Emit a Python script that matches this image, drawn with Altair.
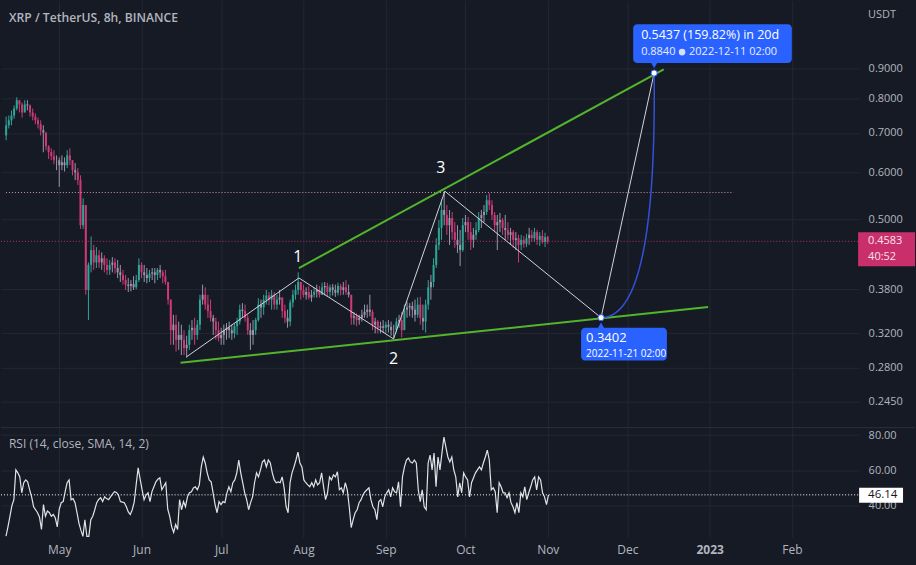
import altair as alt
import pandas as pd
import numpy as np

BG = "#161a25"
GRID = "#232733"
TXT = "#b2b5be"
FONT = "Open Sans"
TEAL = "#2ea596"
PINK = "#cf3a76"
GREY = "#9a97ad"
GREEN = "#52b52b"
BLUE = "#2962ff"

# ---------------- data ----------------
candle_start = "2022-04-11 00:00"   # one candle per day (read at daily resolution)
first_open = 0.693
highs = [0.746, 0.749, 0.764, 0.779, 0.804, 0.795, 0.788, 0.795, 0.795, 0.782,
         0.770, 0.755, 0.743, 0.735, 0.721, 0.693, 0.667, 0.659, 0.654, 0.641,
         0.636, 0.641, 0.636, 0.654, 0.659, 0.629, 0.622, 0.610, 0.593, 0.542,
         0.528, 0.422, 0.467, 0.452, 0.448, 0.443, 0.439, 0.434, 0.429, 0.426,
         0.431, 0.429, 0.426, 0.418, 0.410, 0.402, 0.397, 0.394, 0.400, 0.402,
         0.429, 0.422, 0.418, 0.413, 0.410, 0.413, 0.413, 0.413, 0.418, 0.410,
         0.410, 0.391, 0.365, 0.344, 0.344, 0.335, 0.331, 0.324, 0.317, 0.331,
         0.337, 0.340, 0.337, 0.372, 0.387, 0.383, 0.372, 0.365, 0.344, 0.340,
         0.335, 0.327, 0.331, 0.333, 0.335, 0.331, 0.333, 0.340, 0.358, 0.360,
         0.358, 0.344, 0.333, 0.337, 0.340, 0.367, 0.365, 0.372, 0.379, 0.376,
         0.379, 0.376, 0.372, 0.379, 0.368, 0.358, 0.351, 0.365, 0.379, 0.387,
         0.406, 0.391, 0.387, 0.383, 0.385, 0.379, 0.383, 0.387, 0.385, 0.390,
         0.391, 0.390, 0.387, 0.388, 0.387, 0.390, 0.388, 0.391, 0.394, 0.387,
         0.372, 0.348, 0.346, 0.344, 0.351, 0.358, 0.358, 0.372, 0.351, 0.340,
         0.337, 0.335, 0.337, 0.335, 0.337, 0.335, 0.331, 0.340, 0.344, 0.348,
         0.358, 0.362, 0.360, 0.362, 0.365, 0.368, 0.369, 0.358, 0.365, 0.394,
         0.402, 0.429, 0.464, 0.498, 0.540, 0.557, 0.528, 0.518, 0.514, 0.494,
         0.488, 0.479, 0.502, 0.508, 0.504, 0.494, 0.483, 0.494, 0.514, 0.518,
         0.528, 0.549, 0.553, 0.538, 0.514, 0.508, 0.512, 0.502, 0.508, 0.494,
         0.483, 0.479, 0.475, 0.470, 0.470, 0.468, 0.472, 0.483, 0.479, 0.483,
         0.479, 0.475, 0.479, 0.474, 0.468]
lows = [0.680, 0.712, 0.721, 0.740, 0.764, 0.758, 0.743, 0.758, 0.764, 0.746,
        0.735, 0.724, 0.712, 0.693, 0.649, 0.654, 0.632, 0.629, 0.619, 0.605,
        0.567, 0.605, 0.602, 0.610, 0.617, 0.593, 0.582, 0.571, 0.481, 0.481,
        0.372, 0.337, 0.406, 0.410, 0.413, 0.413, 0.410, 0.406, 0.402, 0.402,
        0.406, 0.404, 0.397, 0.391, 0.387, 0.379, 0.376, 0.377, 0.379, 0.380,
        0.391, 0.397, 0.391, 0.389, 0.391, 0.394, 0.389, 0.394, 0.397, 0.389,
        0.387, 0.358, 0.306, 0.306, 0.298, 0.300, 0.294, 0.294, 0.291, 0.300,
        0.312, 0.306, 0.312, 0.324, 0.358, 0.351, 0.340, 0.335, 0.318, 0.312,
        0.310, 0.306, 0.306, 0.312, 0.314, 0.312, 0.314, 0.318, 0.331, 0.340,
        0.335, 0.318, 0.300, 0.306, 0.318, 0.335, 0.340, 0.344, 0.358, 0.357,
        0.351, 0.351, 0.351, 0.358, 0.340, 0.333, 0.327, 0.329, 0.354, 0.365,
        0.372, 0.365, 0.368, 0.365, 0.365, 0.362, 0.368, 0.368, 0.368, 0.372,
        0.371, 0.369, 0.369, 0.371, 0.369, 0.371, 0.371, 0.372, 0.372, 0.368,
        0.331, 0.331, 0.329, 0.331, 0.335, 0.340, 0.340, 0.342, 0.324, 0.320,
        0.320, 0.320, 0.321, 0.320, 0.321, 0.317, 0.314, 0.321, 0.327, 0.315,
        0.324, 0.340, 0.342, 0.340, 0.335, 0.340, 0.331, 0.324, 0.321, 0.351,
        0.365, 0.383, 0.413, 0.443, 0.461, 0.488, 0.470, 0.452, 0.461, 0.447,
        0.438, 0.416, 0.440, 0.475, 0.461, 0.443, 0.447, 0.461, 0.475, 0.483,
        0.494, 0.508, 0.518, 0.498, 0.475, 0.443, 0.475, 0.470, 0.461, 0.461,
        0.452, 0.447, 0.443, 0.422, 0.443, 0.447, 0.448, 0.452, 0.457, 0.457,
        0.452, 0.450, 0.454, 0.448, 0.454]
closes = [0.721, 0.735, 0.749, 0.770, 0.795, 0.782, 0.758, 0.782, 0.779, 0.758,
          0.746, 0.735, 0.724, 0.707, 0.701, 0.664, 0.649, 0.639, 0.629, 0.629,
          0.617, 0.624, 0.617, 0.641, 0.629, 0.605, 0.600, 0.582, 0.488, 0.528,
          0.379, 0.418, 0.443, 0.422, 0.434, 0.422, 0.429, 0.418, 0.410, 0.418,
          0.422, 0.413, 0.406, 0.402, 0.394, 0.387, 0.385, 0.388, 0.383, 0.394,
          0.418, 0.406, 0.402, 0.397, 0.404, 0.406, 0.402, 0.410, 0.406, 0.400,
          0.391, 0.365, 0.324, 0.331, 0.312, 0.318, 0.312, 0.302, 0.306, 0.324,
          0.327, 0.318, 0.331, 0.365, 0.372, 0.358, 0.349, 0.340, 0.335, 0.324,
          0.314, 0.318, 0.324, 0.327, 0.324, 0.320, 0.329, 0.335, 0.351, 0.349,
          0.340, 0.324, 0.318, 0.324, 0.337, 0.358, 0.354, 0.365, 0.371, 0.365,
          0.372, 0.358, 0.365, 0.368, 0.349, 0.340, 0.335, 0.361, 0.372, 0.379,
          0.391, 0.379, 0.372, 0.376, 0.368, 0.372, 0.376, 0.379, 0.372, 0.383,
          0.385, 0.376, 0.383, 0.379, 0.375, 0.385, 0.379, 0.383, 0.376, 0.372,
          0.340, 0.342, 0.337, 0.340, 0.344, 0.348, 0.351, 0.348, 0.331, 0.335,
          0.327, 0.329, 0.327, 0.331, 0.328, 0.324, 0.324, 0.335, 0.337, 0.324,
          0.351, 0.354, 0.356, 0.351, 0.344, 0.358, 0.340, 0.335, 0.358, 0.383,
          0.391, 0.418, 0.452, 0.483, 0.518, 0.508, 0.488, 0.502, 0.475, 0.461,
          0.452, 0.443, 0.488, 0.494, 0.475, 0.461, 0.470, 0.479, 0.502, 0.508,
          0.514, 0.538, 0.528, 0.508, 0.488, 0.494, 0.498, 0.483, 0.479, 0.470,
          0.475, 0.461, 0.464, 0.452, 0.461, 0.454, 0.464, 0.470, 0.464, 0.475,
          0.461, 0.468, 0.457, 0.466, 0.4583]

rsi_start = "2022-04-10 22:35"
rsi_step_minutes = 1070
rsi_values = [22.7, 28.0, 34.0, 40.0, 43.4, 60.3, 58.6, 56.3, 47.3, 53.0,
              54.6, 53.5, 49.0, 45.0, 39.4, 37.7, 36.0, 33.5, 26.5, 40.6,
              34.0, 37.0, 36.0, 34.0, 35.0, 33.0, 28.0, 38.0, 41.7, 42.3,
              48.0, 53.0, 54.6, 43.4, 44.0, 41.7, 36.0, 30.0, 26.0, 22.6,
              32.0, 22.6, 22.6, 32.0, 34.0, 37.7, 41.7, 43.5, 44.5, 42.3,
              45.0, 44.0, 43.4, 45.0, 46.5, 47.9, 47.5, 46.0, 42.3, 42.0,
              41.7, 39.4, 36.5, 35.0, 37.7, 42.0, 52.0, 61.4, 55.0, 49.0,
              43.4, 46.0, 47.3, 42.3, 48.0, 50.7, 53.5, 55.0, 55.8, 49.0,
              51.0, 53.0, 38.0, 34.0, 28.0, 24.8, 29.3, 26.5, 43.4, 37.7,
              42.3, 39.4, 45.0, 47.3, 47.9, 50.1, 50.7, 49.0, 51.8, 62.0,
              67.6, 64.2, 58.6, 54.6, 53.5, 47.3, 40.6, 36.0, 42.3, 40.6,
              42.3, 41.7, 47.3, 50.7, 47.9, 53.0, 54.6, 58.6, 65.9, 58.6,
              53.0, 47.3, 43.4, 37.7, 41.7, 45.0, 53.0, 58.6, 56.3, 60.3,
              64.8, 65.9, 62.0, 65.9, 64.2, 58.6, 54.6, 53.0, 53.5, 53.0,
              56.3, 50.1, 39.4, 36.0, 53.0, 58.6, 62.0, 65.9, 70.4, 64.2,
              62.0, 54.6, 53.0, 51.8, 50.7, 53.0, 50.7, 54.6, 51.8, 53.0,
              58.6, 50.7, 43.4, 47.3, 56.3, 54.6, 57.5, 56.3, 59.2, 49.0,
              50.1, 47.3, 53.0, 49.0, 39.4, 27.6, 32.1, 36.0, 37.7, 41.7,
              43.4, 46.2, 47.9, 49.0, 50.1, 43.4, 39.4, 37.7, 32.1, 42.3,
              43.4, 39.4, 45.0, 47.3, 49.0, 45.0, 50.1, 47.9, 47.3, 53.5,
              39.4, 56.3, 62.0, 65.9, 67.0, 64.8, 64.2, 65.9, 64.2, 49.0,
              42.3, 49.0, 39.4, 37.7, 64.2, 68.7, 60.3, 69.8, 50.7, 67.6,
              60.3, 69.8, 78.9, 73.2, 67.6, 64.8, 67.6, 60.3, 56.3, 45.0,
              53.0, 47.3, 58.6, 56.3, 54.6, 45.0, 53.0, 55.8, 58.6, 60.3,
              62.0, 60.3, 64.2, 67.6, 71.5, 65.9, 49.0, 50.1, 47.9, 36.0,
              53.0, 50.7, 47.3, 47.3, 44.5, 47.3, 41.7, 39.4, 36.0, 41.7,
              36.0, 47.3, 45.0, 50.7, 43.4, 47.3, 50.7, 54.6, 56.3, 49.0,
              56.3, 54.6, 47.3, 45.0, 40.6, 46.14]

price_ticks = [0.245, 0.28, 0.32, 0.38, 0.5, 0.6, 0.7, 0.8, 0.9]
rsi_ticks = [40, 60, 80]
month_ticks = [(2022, 5), (2022, 6), (2022, 7), (2022, 8), (2022, 9), (2022, 10),
               (2022, 11), (2022, 12), (2023, 1), (2023, 2)]

title_text = "XRP / TetherUS, 8h, BINANCE"
rsi_title = "RSI (14, close, SMA, 14, 2)"
currency = "USDT"
last_price = 0.4583
last_price_timer = "40:52"
last_rsi = 46.14
resistance_level = 0.5545
resistance_start = "2022-04-10 22:35"
resistance_end = "2023-01-09 23:00"

zigzag_time = ["2022-06-17 22:00", "2022-07-30 06:30", "2022-09-03 22:20",
               "2022-09-23 06:00", "2022-11-21 02:00", "2022-12-11 02:00"]
zigzag_price = [0.2919, 0.3972, 0.3131, 0.5574, 0.3402, 0.8840]
wave_labels = ["1", "2", "3"]
wave_points = [1, 2, 3]
wave_offsets = [(-1, -21), (0, 20), (-4, -23)]

channel_t1 = ["2022-07-30 06:30", "2022-06-15 16:30"]
channel_p1 = [0.4129, 0.2852]
channel_t2 = ["2022-12-14 17:00", "2022-12-31 10:20"]
channel_p2 = [0.8965, 0.3547]

proj_times = ["2022-11-21 02:00", "2022-12-12 03:00", "2022-12-11 02:00"]
proj_prices = [0.3402, 0.3402, 0.8840]
proj_head = "0.5437 (159.82%) in 20d"
proj_end_price = "0.8840"
proj_end_date = "2022-12-11  02:00"
proj_start_price = "0.3402"
proj_start_date = "2022-11-21 02:00"

# ---------------- tables ----------------
dates = pd.date_range(candle_start, periods=len(closes), freq="D")
opens = [first_open] + closes[:-1]
kinds, hi2, lo2 = [], [], []
for o, h, l, c in zip(opens, highs, lows, closes):
    h2, l2 = max(h, o, c), min(l, o, c)
    hi2.append(h2)
    lo2.append(l2)
    if abs(c - o) < 0.25 * (h2 - l2):
        kinds.append("flat")
    elif c >= o:
        kinds.append("up")
    else:
        kinds.append("down")
candles = pd.DataFrame({"t": dates, "o": opens, "h": hi2, "l": lo2, "c": closes, "k": kinds})

rsi_df = pd.DataFrame({
    "t": pd.date_range(rsi_start, periods=len(rsi_values), freq=f"{rsi_step_minutes}min"),
    "rsi": rsi_values,
})

zig = pd.DataFrame({"t": pd.to_datetime(zigzag_time), "p": zigzag_price, "i": range(len(zigzag_time))})
chan = pd.DataFrame({"t": pd.to_datetime(channel_t1), "p": channel_p1,
                     "t2": pd.to_datetime(channel_t2), "p2": channel_p2})

pt = pd.to_datetime(proj_times).astype("int64").to_numpy().astype(float)
pl = np.log(np.array(proj_prices))
s = np.linspace(0, 1, 41)
bt = (1 - s) ** 2 * pt[0] + 2 * (1 - s) * s * pt[1] + s ** 2 * pt[2]
bl = (1 - s) ** 2 * pl[0] + 2 * (1 - s) * s * pl[1] + s ** 2 * pl[2]
curve = pd.DataFrame({"t": pd.to_datetime(bt.astype("int64")), "p": np.exp(bl), "i": range(len(s))})

end_pt = pd.DataFrame({"t": [pd.Timestamp(proj_times[2])], "p": [proj_prices[2]]})
start_pt = pd.DataFrame({"t": [pd.Timestamp(proj_times[0])], "p": [proj_prices[0]]})

res_df = pd.DataFrame({"t": [pd.Timestamp(resistance_start)], "t2": [pd.Timestamp(resistance_end)],
                       "p": [resistance_level]})
last_df = pd.DataFrame({"p": [last_price], "s": [f"{last_price:.4f}"], "s2": [last_price_timer]})
rsi_last_df = pd.DataFrame({"v": [last_rsi], "s": [f"{last_rsi:.2f}"]})

# ---------------- scales & axes ----------------
x_scale = alt.Scale(domain=[alt.DateTime(year=2022, month=4, date=10, hours=22, minutes=35),
                            alt.DateTime(year=2023, month=2, date=24, hours=10)])
month_vals = [alt.DateTime(year=y, month=m, date=1) for y, m in month_ticks]
top_x_axis = alt.Axis(values=month_vals, labels=False, ticks=False, domain=False, grid=True,
                      gridColor=GRID, title=None)
bottom_x_axis = alt.Axis(values=month_vals,
                         labelExpr="month(datum.value) == 0 ? timeFormat(datum.value, '%Y') : timeFormat(datum.value, '%b')",
                         labelFontWeight={"condition": {"test": "month(datum.value) == 0", "value": "bold"},
                                          "value": "normal"},
                         ticks=False, domain=False, grid=True, gridColor=GRID, labelColor=TXT,
                         labelFontSize=12, labelFont=FONT, labelPadding=7, title=None,
                         labelFlush=False, labelOverlap=False)
p_scale = alt.Scale(type="log", domain=[0.2214, 1.173], nice=False)
price_axis = alt.Axis(orient="right", values=price_ticks, format=".4f", labelColor=TXT, labelFontSize=11,
                      labelFont=FONT, labelAlign="left", labelPadding=9, ticks=False, domain=False,
                      grid=True, gridColor=GRID, title=None, labelOverlap=False, labelFlush=False)
r_scale = alt.Scale(domain=[22.0, 84.2], nice=False)
rsi_axis = alt.Axis(orient="right", values=rsi_ticks, format=".2f", labelColor=TXT, labelFontSize=11,
                    labelFont=FONT, labelAlign="left", labelPadding=9, ticks=False, domain=False,
                    grid=True, gridColor=GRID, title=None, labelOverlap=False, labelFlush=False)

X = lambda f: alt.X(f"{f}:T", scale=x_scale, axis=top_x_axis)
Y = lambda f: alt.Y(f"{f}:Q", scale=p_scale, axis=price_axis)
color_scale = alt.Scale(domain=["up", "down", "flat"], range=[TEAL, PINK, GREY])

# ---------------- price panel ----------------
wicks = alt.Chart(candles).mark_rule(strokeWidth=1).encode(
    x=X("t"), y=Y("l"), y2="h", color=alt.Color("k:N", scale=color_scale, legend=None))
bodies = alt.Chart(candles).mark_bar(width=2).encode(
    x=X("t"), y=Y("o"), y2="c", color=alt.Color("k:N", scale=color_scale, legend=None))

res_line = alt.Chart(res_df).mark_rule(strokeDash=[1, 2], color="#c99ab3", strokeWidth=1).encode(
    x=X("t"), x2="t2", y=Y("p"))
last_line = alt.Chart(last_df).mark_rule(strokeDash=[1, 2], color="#b8306a", strokeWidth=1).encode(
    x=alt.value(0), x2=alt.value(860), y=Y("p"))

channel = alt.Chart(chan).mark_rule(strokeWidth=2, color=GREEN).encode(
    x=X("t"), x2="t2", y=Y("p"), y2="p2")
zigline = alt.Chart(zig).mark_line(strokeWidth=1, color="#d1d4dc").encode(
    x=X("t"), y=Y("p"), order="i:Q")
curve_line = alt.Chart(curve).mark_line(strokeWidth=1.5, color="#3450d8").encode(
    x=X("t"), y=Y("p"), order="i:Q")

# projection labels
top_box = alt.Chart(end_pt).mark_rect(color=BLUE, cornerRadius=4, xOffset=-21, x2Offset=138,
                                      yOffset=-49, y2Offset=-10).encode(x=X("t"), x2="t", y=Y("p"), y2="p")
top_ptr = alt.Chart(end_pt).mark_point(shape="triangle-down", filled=True, size=50, color=BLUE, opacity=1,
                                       yOffset=-8).encode(x=X("t"), y=Y("p"))
top_t1 = alt.Chart(end_pt).mark_text(text=proj_head, align="left", baseline="middle", dx=-13, dy=-38,
                                     fontSize=12.5, font=FONT, color="white").encode(x=X("t"), y=Y("p"))
top_t2 = alt.Chart(end_pt).mark_text(text=proj_end_price, align="left", baseline="middle", dx=-13, dy=-21,
                                     fontSize=11, font=FONT, color="#e8edff").encode(x=X("t"), y=Y("p"))
top_clock = alt.Chart(end_pt).mark_point(shape="circle", filled=True, size=45, color="#d6def8", opacity=1,
                                         xOffset=28, yOffset=-21).encode(x=X("t"), y=Y("p"))
top_t3 = alt.Chart(end_pt).mark_text(text=proj_end_date, align="left", baseline="middle", dx=35, dy=-21,
                                     fontSize=11, font=FONT, color="#e8edff").encode(x=X("t"), y=Y("p"))

low_box = alt.Chart(start_pt).mark_rect(color=BLUE, cornerRadius=4, xOffset=-20, x2Offset=66,
                                        yOffset=10, y2Offset=43).encode(x=X("t"), x2="t", y=Y("p"), y2="p")
low_ptr = alt.Chart(start_pt).mark_point(shape="triangle-up", filled=True, size=50, color=BLUE, opacity=1,
                                         yOffset=8).encode(x=X("t"), y=Y("p"))
low_t1 = alt.Chart(start_pt).mark_text(text=proj_start_price, align="left", baseline="middle", dx=-15, dy=20,
                                       fontSize=13, font=FONT, color="white").encode(x=X("t"), y=Y("p"))
low_t2 = alt.Chart(start_pt).mark_text(text=proj_start_date, align="left", baseline="middle", dx=-15, dy=36,
                                       fontSize=10, font=FONT, color="white").encode(x=X("t"), y=Y("p"))

dots = alt.Chart(pd.concat([start_pt, end_pt])).mark_point(shape="circle", filled=True, size=38, color="white",
                                                          opacity=1, stroke=BLUE, strokeWidth=1).encode(
    x=X("t"), y=Y("p"))

wave_layers = []
for lab, idx, (dx, dy) in zip(wave_labels, wave_points, wave_offsets):
    wave_layers.append(alt.Chart(zig[zig["i"] == idx]).mark_text(
        text=lab, dx=dx, dy=dy, fontSize=16, font=FONT, color="white", baseline="middle").encode(
        x=X("t"), y=Y("p")))

title_mark = alt.Chart(pd.DataFrame({"s": [title_text]})).mark_text(
    align="left", baseline="middle", fontSize=12.2, fontWeight=600, font=FONT, color=TXT).encode(
    x=alt.value(8), y=alt.value(17), text="s:N")
usdt_mark = alt.Chart(pd.DataFrame({"s": [currency]})).mark_text(
    align="left", baseline="middle", fontSize=11, font=FONT, color=TXT).encode(
    x=alt.value(869), y=alt.value(14), text="s:N")

last_box = alt.Chart(last_df).mark_rect(color="#c92f6b", yOffset=-9, y2Offset=25).encode(
    x=alt.value(859), x2=alt.value(916), y=Y("p"), y2="p")
last_t1 = alt.Chart(last_df).mark_text(align="left", baseline="middle", fontSize=11, font=FONT,
                                       color="#fbe3ec").encode(x=alt.value(869), y=Y("p"), text="s:N")
last_t2 = alt.Chart(last_df).mark_text(align="left", baseline="middle", fontSize=11, font=FONT, dy=16,
                                       color="#fbe3ec").encode(x=alt.value(869), y=Y("p"), text="s2:N")

separator = alt.Chart(pd.DataFrame({"a": [0]})).mark_rule(color="#2c303b", strokeWidth=1).encode(
    x=alt.value(0), x2=alt.value(916), y=alt.value(428))

top = alt.layer(
    wicks, bodies, res_line, last_line, channel, zigline, curve_line,
    top_box, top_ptr, top_t1, top_t2, top_clock, top_t3,
    low_box, low_ptr, low_t1, low_t2, dots, *wave_layers,
    title_mark, usdt_mark, last_box, last_t1, last_t2, separator,
).properties(width=860, height=428)

# ---------------- RSI panel ----------------
XB = alt.X("t:T", scale=x_scale, axis=bottom_x_axis)
rsi_line = alt.Chart(rsi_df).mark_line(strokeWidth=1.2, color="#e2e3e6", clip=True).encode(
    x=XB, y=alt.Y("rsi:Q", scale=r_scale, axis=rsi_axis))
rsi_dot = alt.Chart(rsi_last_df).mark_rule(strokeDash=[1, 2], color="white", strokeWidth=1).encode(
    x=alt.value(0), x2=alt.value(860), y=alt.Y("v:Q", scale=r_scale, axis=rsi_axis))
rsi_box = alt.Chart(rsi_last_df).mark_rect(color="white", yOffset=-7, y2Offset=8).encode(
    x=alt.value(860), x2=alt.value(904), y=alt.Y("v:Q", scale=r_scale, axis=rsi_axis), y2="v")
rsi_txt = alt.Chart(rsi_last_df).mark_text(align="left", baseline="middle", fontSize=11.5, font=FONT,
                                           color="#131722").encode(
    x=alt.value(869), y=alt.Y("v:Q", scale=r_scale, axis=rsi_axis), text="s:N")
rsi_title_mark = alt.Chart(pd.DataFrame({"s": [rsi_title]})).mark_text(
    align="left", baseline="middle", fontSize=12, font=FONT, color=TXT).encode(
    x=alt.value(8), y=alt.value(16), text="s:N")

bottom = alt.layer(rsi_line, rsi_dot, rsi_box, rsi_txt, rsi_title_mark).properties(width=860, height=110)

chart = alt.vconcat(top, bottom, spacing=0, bounds="flush").resolve_scale(
    x="shared", y="independent").properties(
    padding={"left": 0, "top": 0, "right": 0, "bottom": 10}).configure(
    background=BG).configure_view(stroke=None)

chart.save("out.html", embed_options={"renderer": "svg", "actions": False})
